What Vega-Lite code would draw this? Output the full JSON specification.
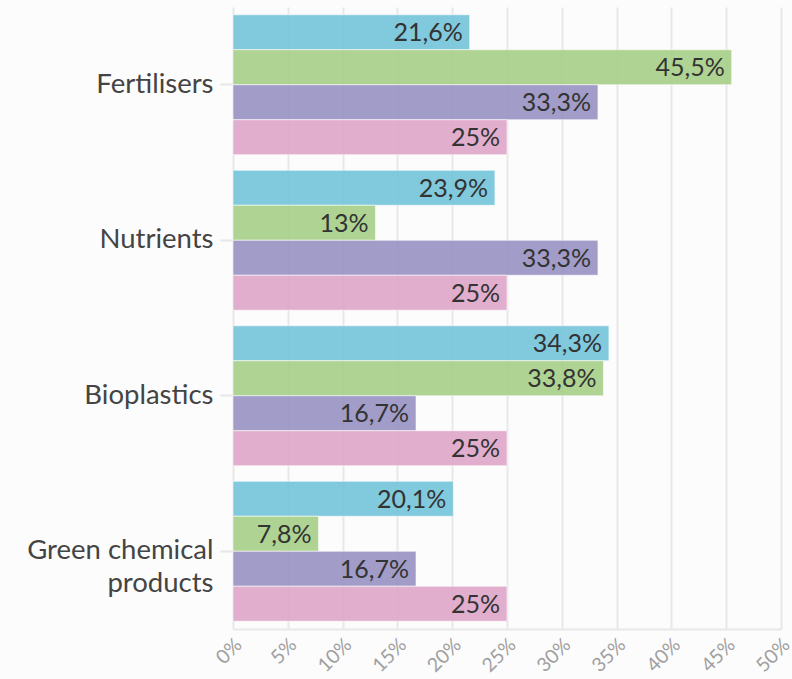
{
  "$schema": "https://vega.github.io/schema/vega-lite/v6.json",
  "autosize": {"type": "none"},
  "padding": {"left": 233, "top": 7, "right": 11, "bottom": 50},
  "width": 548,
  "height": 622,
  "background": "#fcfcfc",
  "config": {"view": {"stroke": null}, "font": "Lato"},
  "data": {"values": [
    {"cat": "Fertilisers", "s": "A", "v": 21.6},
    {"cat": "Fertilisers", "s": "B", "v": 45.5},
    {"cat": "Fertilisers", "s": "C", "v": 33.3},
    {"cat": "Fertilisers", "s": "D", "v": 25},
    {"cat": "Nutrients", "s": "A", "v": 23.9},
    {"cat": "Nutrients", "s": "B", "v": 13},
    {"cat": "Nutrients", "s": "C", "v": 33.3},
    {"cat": "Nutrients", "s": "D", "v": 25},
    {"cat": "Bioplastics", "s": "A", "v": 34.3},
    {"cat": "Bioplastics", "s": "B", "v": 33.8},
    {"cat": "Bioplastics", "s": "C", "v": 16.7},
    {"cat": "Bioplastics", "s": "D", "v": 25},
    {"cat": "Green chemical products", "s": "A", "v": 20.1},
    {"cat": "Green chemical products", "s": "B", "v": 7.8},
    {"cat": "Green chemical products", "s": "C", "v": 16.7},
    {"cat": "Green chemical products", "s": "D", "v": 25}
  ]},
  "transform": [{"calculate": "replace(format(datum.v, '.1~f'), '.', ',') + '%'", "as": "label"}],
  "encoding": {
    "y": {
      "field": "cat", "type": "nominal", "sort": null,
      "scale": {"paddingInner": 0.1, "paddingOuter": 0.05},
      "axis": {
        "title": null, "domain": false, "ticks": true, "tickSize": 13, "tickColor": "#e6e6e6", "tickWidth": 2,
        "labelFontSize": 27.5, "labelColor": "#444444", "labelPadding": 7, "labelFont": "Lato", "labelLimit": 400,
        "labelExpr": "datum.value == 'Green chemical products' ? ['Green chemical', 'products'] : datum.value",
        "labelLineHeight": 33
      }
    },
    "yOffset": {"field": "s", "type": "nominal", "scale": {"paddingInner": 0, "paddingOuter": 0}},
    "x": {
      "field": "v", "type": "quantitative",
      "scale": {"domain": [0, 50], "nice": false},
      "axis": {
        "title": null, "values": [0, 5, 10, 15, 20, 25, 30, 35, 40, 45, 50],
        "labelExpr": "datum.value + '%'", "labelAngle": -45, "labelAlign": "right", "labelBaseline": "top",
        "labelFontSize": 19.5, "labelColor": "#a0a0a0", "labelPadding": 6, "labelFlush": false, "labelOffset": -1,
        "grid": true, "gridColor": "#e8e8e8", "gridWidth": 2,
        "domain": true, "domainColor": "#e8e8e8", "domainWidth": 2,
        "ticks": false
      }
    }
  },
  "layer": [
    {
      "mark": {"type": "bar", "opacity": 0.9, "stroke": "#ffffff", "strokeWidth": 1, "strokeOpacity": 0.6},
      "encoding": {
        "color": {
          "field": "s", "type": "nominal", "legend": null,
          "scale": {"domain": ["A", "B", "C", "D"], "range": ["#74c4da", "#a6cf87", "#9893c3", "#e0a6c8"]}
        }
      }
    },
    {
      "mark": {"type": "text", "align": "right", "baseline": "middle", "dx": -7, "dy": 1, "fontSize": 25, "color": "#333333"},
      "encoding": {"text": {"field": "label"}}
    }
  ]
}
